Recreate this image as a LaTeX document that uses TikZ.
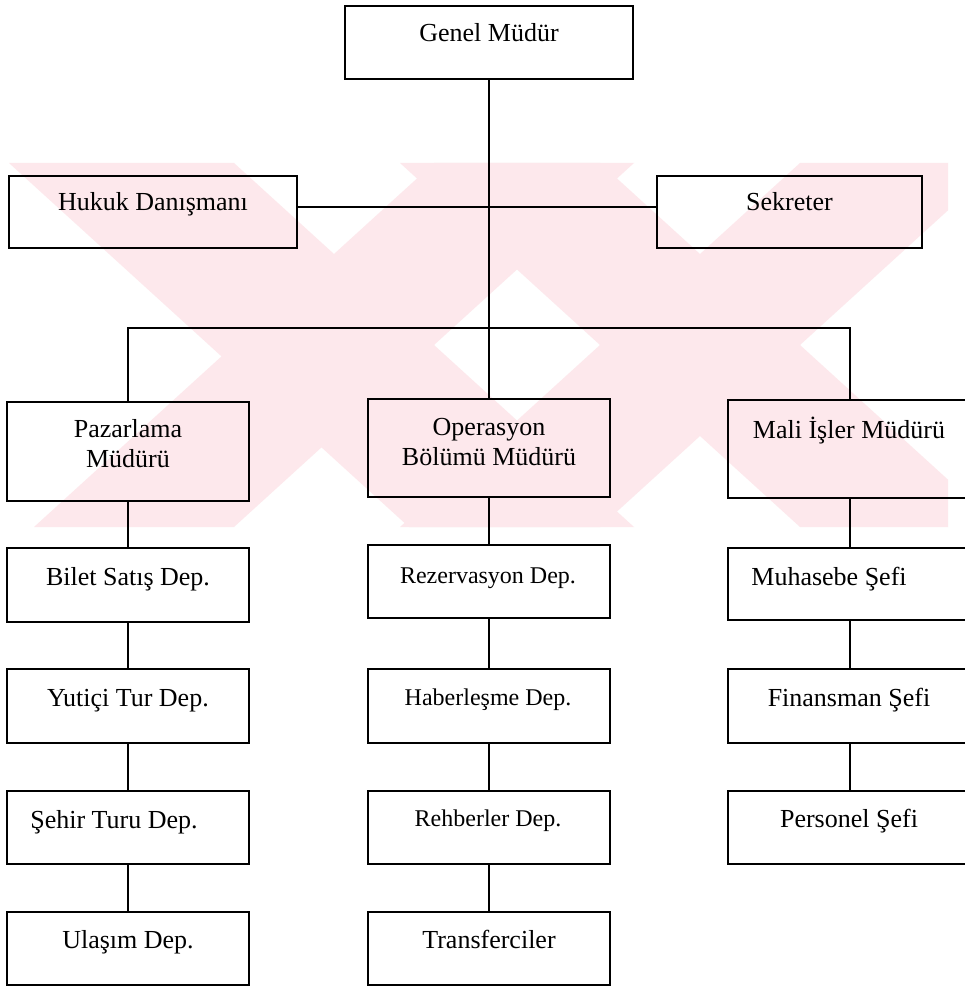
\documentclass[tikz,border=0pt]{standalone}
\usepackage{fontspec}
\setmainfont{Liberation Serif}
\definecolor{wm}{RGB}{253,232,236}
\begin{document}
\begin{tikzpicture}[x=1pt,y=-1pt,
  box/.style={draw, line width=2.8pt, rectangle, inner sep=0pt},
  lbl/.style={inner sep=0pt, anchor=base, font=\fontsize{26}{30}\selectfont},
  slbl/.style={inner sep=0pt, anchor=base, font=\fontsize{24}{28}\selectfont},
  conn/.style={line width=2pt}]
\useasboundingbox[fill=white] (0,0) rectangle (965,987);
% watermark
\begin{scope}
\clip (9,163) rectangle (948,527);
\fill[wm] (9,163) -- (234,163) -- (634,527) -- (409,527) -- cycle;
\fill[wm] (434,163) -- (634,163) -- (234,527) -- (34,527) -- cycle;
\fill[wm] (400,163) -- (600,163) -- (1000,527) -- (800,527) -- cycle;
\fill[wm] (800,163) -- (1000,163) -- (600,527) -- (400,527) -- cycle;
\end{scope}
% boxes
\node[box, minimum width=288pt, minimum height=73pt] (gm) at (489,42.5) {};
\node[box, minimum width=288pt, minimum height=72pt] (hd) at (153,212) {};
\node[box, minimum width=265pt, minimum height=72pt] (sk) at (789.5,212) {};
\node[box, minimum width=242pt, minimum height=99pt] (pm) at (128,451.5) {};
\node[box, minimum width=242pt, minimum height=98pt] (ob) at (489,448) {};
\node[box, minimum width=244pt, minimum height=98pt] (mi) at (850,449) {};
\node[box, minimum width=242pt, minimum height=74pt] (bs) at (128,585) {};
\node[box, minimum width=242pt, minimum height=73pt] (rz) at (489,581.5) {};
\node[box, minimum width=244pt, minimum height=72pt] (mu) at (850,584) {};
\node[box, minimum width=242pt, minimum height=74pt] (yt) at (128,706) {};
\node[box, minimum width=242pt, minimum height=74pt] (hb) at (489,706) {};
\node[box, minimum width=244pt, minimum height=74pt] (fi) at (850,706) {};
\node[box, minimum width=242pt, minimum height=73pt] (st) at (128,827.5) {};
\node[box, minimum width=242pt, minimum height=73pt] (rh) at (489,827.5) {};
\node[box, minimum width=244pt, minimum height=73pt] (pe) at (850,827.5) {};
\node[box, minimum width=242pt, minimum height=73pt] (ul) at (128,948.5) {};
\node[box, minimum width=242pt, minimum height=73pt] (tr) at (489,948.5) {};
% texts
\node[lbl] (tgm) at (489,42) {Genel Müdür};
\node[lbl] (thd) at (153,211) {Hukuk Danışmanı};
\node[lbl] (tsk) at (789.5,211) {Sekreter};
\node[lbl] (tpm) at (128,437) {\begin{tabular}[t]{@{}c@{}}Pazarlama\\Müdürü\end{tabular}};
\node[lbl] (tob) at (489,435) {\begin{tabular}[t]{@{}c@{}}Operasyon\\Bölümü Müdürü\end{tabular}};
\node[lbl] (tmi) at (849,438) {Mali İşler Müdürü};
\node[lbl] (tbs) at (128,585) {Bilet Satış Dep.};
\node[slbl] (trz) at (488,583) {Rezervasyon Dep.};
\node[lbl] (tmu) at (829,585) {Muhasebe Şefi};
\node[lbl] (tyt) at (128,706) {Yutiçi Tur Dep.};
\node[slbl] (thb) at (488,705) {Haberleşme Dep.};
\node[lbl] (tfi) at (849,706) {Finansman Şefi};
\node[lbl] (tst) at (114,828) {Şehir Turu Dep.};
\node[slbl] (trh) at (488,826) {Rehberler Dep.};
\node[lbl] (tpe) at (849,827) {Personel Şefi};
\node[lbl] (tul) at (128,948) {Ulaşım Dep.};
\node[lbl] (ttr) at (489,948) {Transferciler};
% connectors
\coordinate (jn) at (489,328);
\draw[conn] (gm.south) -- (ob.north);
\draw[conn] ([yshift=5pt]hd.east) -- ([yshift=5pt]sk.west);
\draw[conn] (pm.north) |- (jn) -| (mi.north);
\draw[conn] (pm) -- (bs);
\draw[conn] (bs) -- (yt);
\draw[conn] (yt) -- (st);
\draw[conn] (st) -- (ul);
\draw[conn] (ob) -- (rz);
\draw[conn] (rz) -- (hb);
\draw[conn] (hb) -- (rh);
\draw[conn] (rh) -- (tr);
\draw[conn] (mi) -- (mu);
\draw[conn] (mu) -- (fi);
\draw[conn] (fi) -- (pe);
\end{tikzpicture}
\end{document}
